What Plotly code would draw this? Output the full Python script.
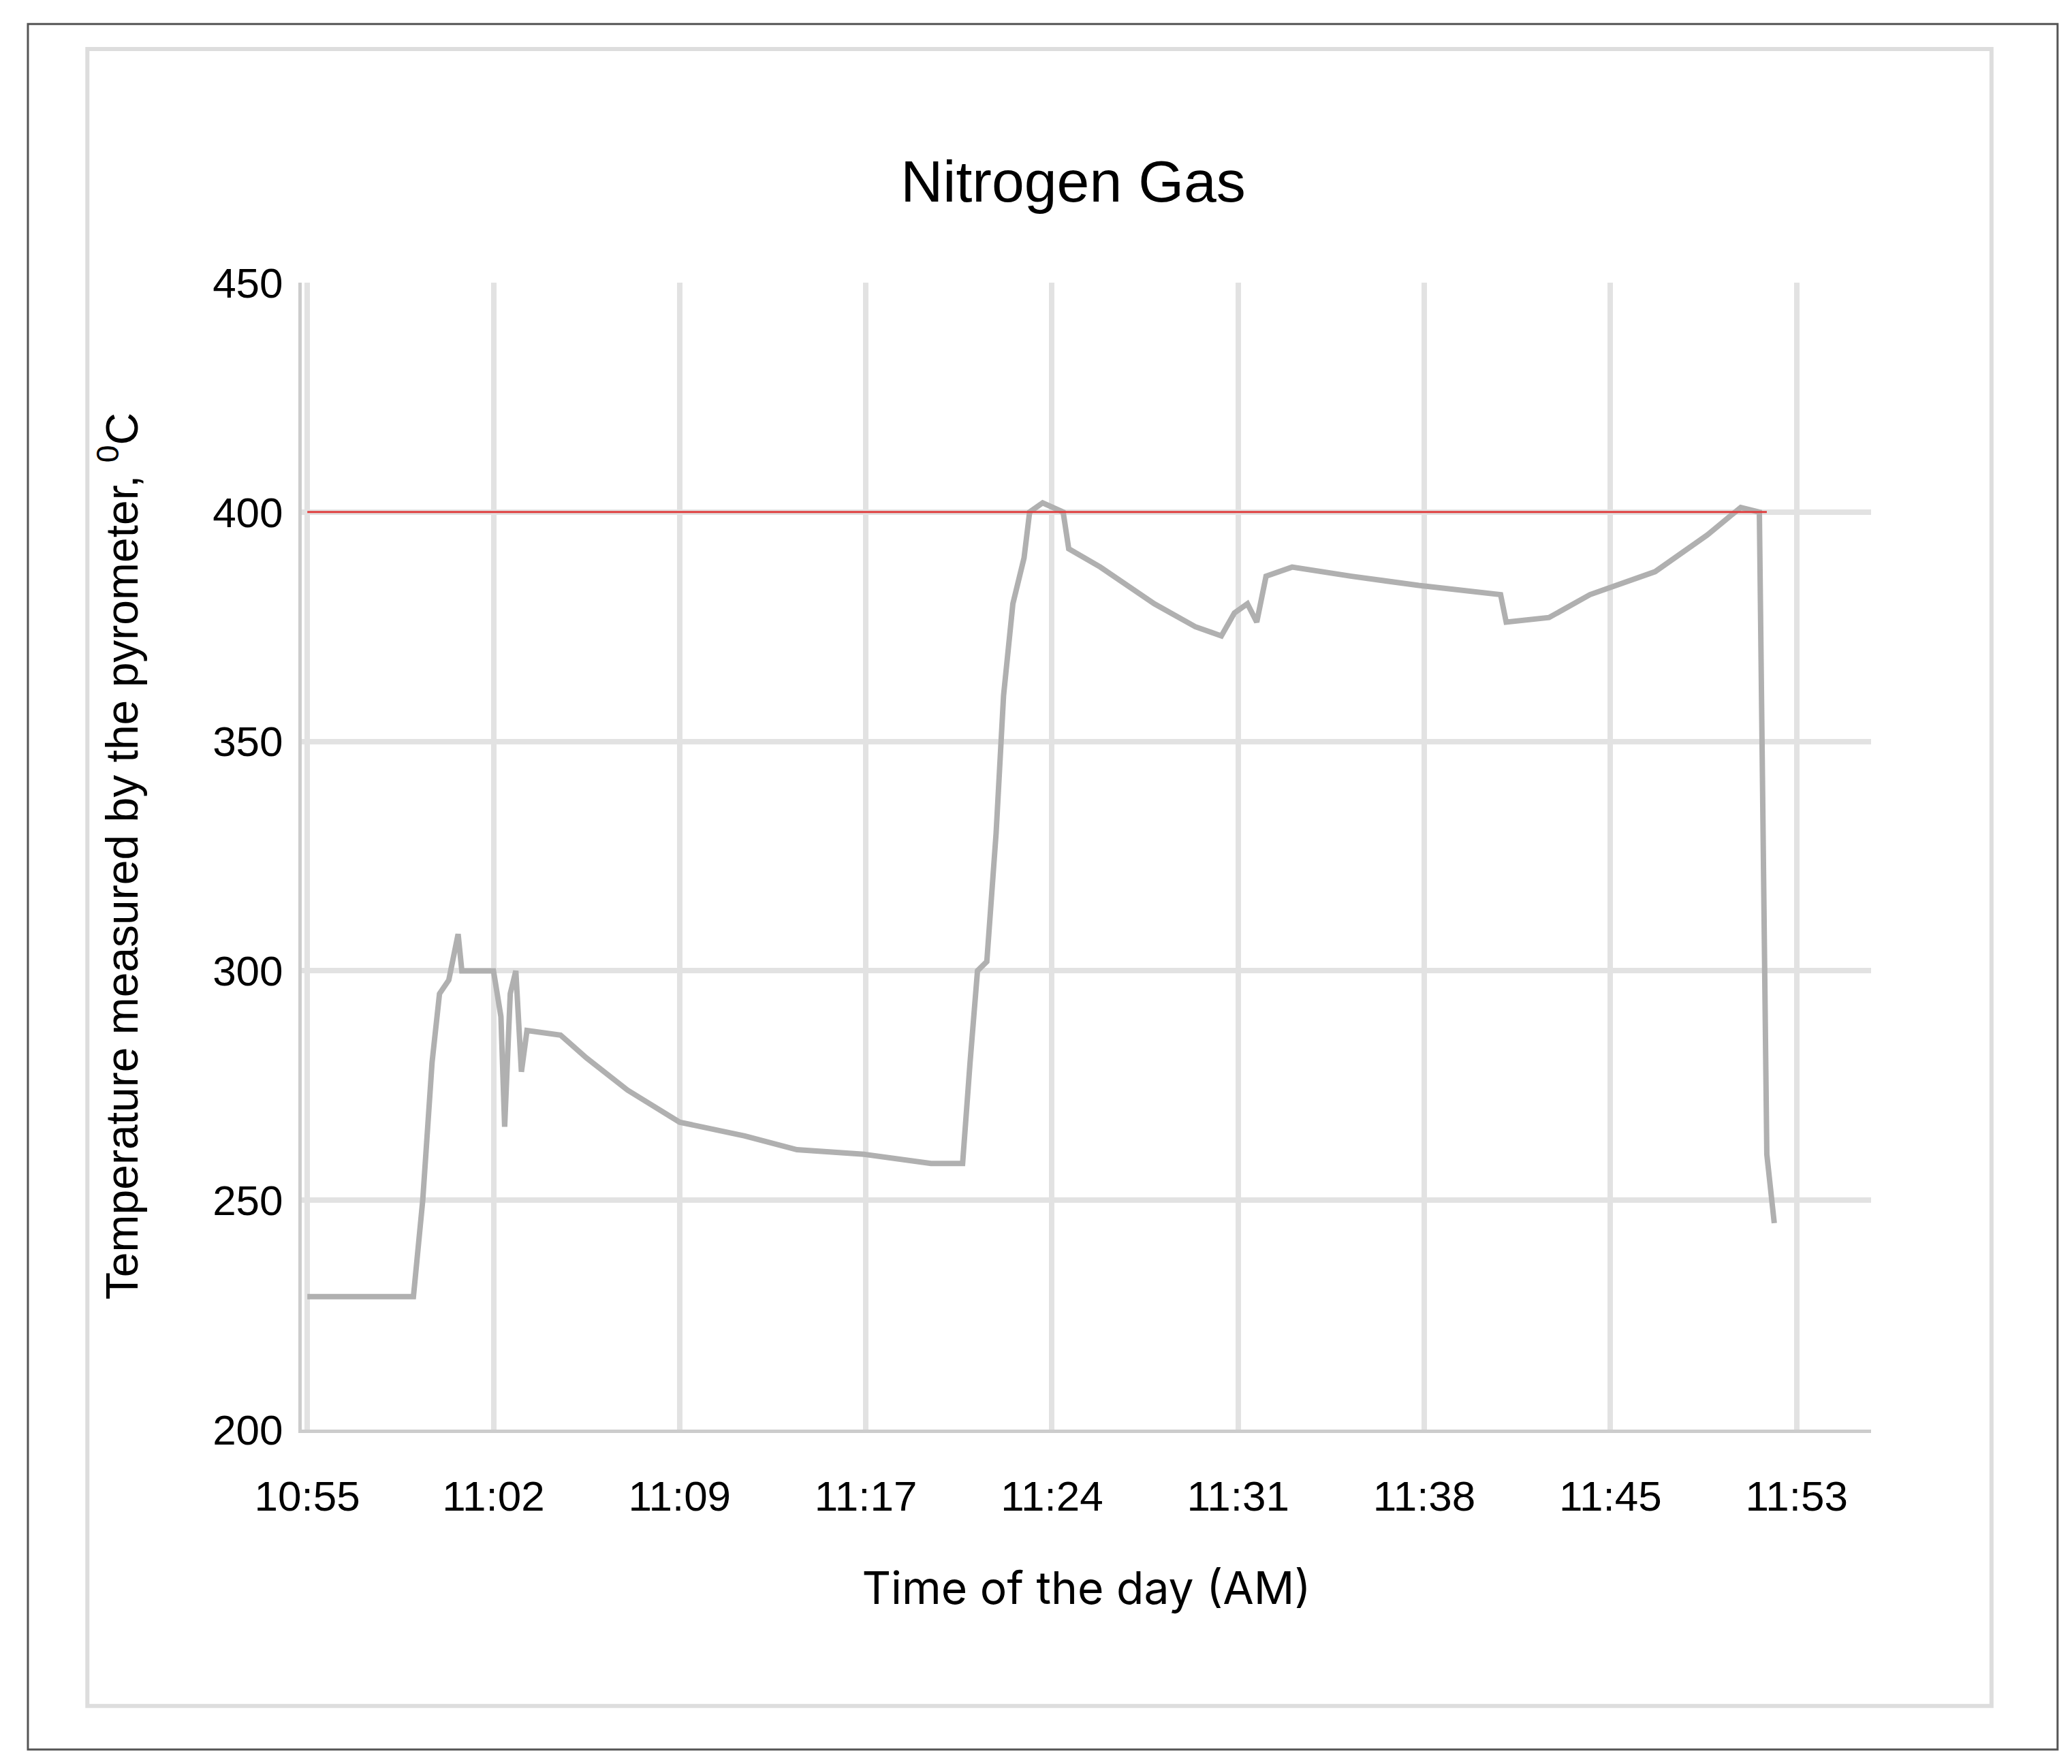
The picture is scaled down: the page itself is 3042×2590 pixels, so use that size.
import plotly.graph_objects as go

tick_labels = ["10:55","11:02","11:09","11:17","11:24","11:31","11:38","11:45","11:53"]
t = [0,0.57,0.62,0.67,0.71,0.76,0.81,0.83,1.0,1.04,1.06,1.09,1.12,1.15,1.18,1.36,1.5,1.72,2.0,2.35,2.63,2.99,3.35,3.52,3.56,3.6,3.65,3.7,3.74,3.79,3.85,3.88,3.95,4.06,4.09,4.26,4.55,4.77,4.91,4.98,5.05,5.1,5.15,5.29,5.61,5.97,6.41,6.44,6.67,6.89,7.24,7.52,7.7,7.8,7.84,7.88]
temp = [229,229,250,280,295,298,308,300,300,290,266,295,300,278,287,286,281,274,267,264,261,260,258,258,280,300,302,330,360,380,390,400,402,400,392,388,380,375,373,378,380,376,386,388,386,384,382,376,377,382,387,395,401,400,260,245]
ref_t = [0, 7.84]
ref_v = [400, 400]

fig = go.Figure()
fig.add_trace(go.Scatter(x=t, y=temp, mode="lines", line=dict(color="#b0b0b0", width=8)))
fig.add_trace(go.Scatter(x=ref_t, y=ref_v, mode="lines", line=dict(color="#e04040", width=3)))

W, H = 3042, 2590
L, R, T, B = 435, 2739, 407, 2091
def px(x): return (x*1.94 - L)/(R-L)
def py(y): return (B - y*1.94)/(B-T)

shapes = [
    dict(type="rect", xref="paper", yref="paper", x0=px(17), x1=px(1553), y0=py(1320), y1=py(14), line=dict(color="#555", width=3)),
    dict(type="rect", xref="paper", yref="paper", x0=px(62), x1=px(1503), y0=py(1287), y1=py(33), line=dict(color="#ddd", width=6)),
]
fig.update_layout(
    width=W, height=H, showlegend=False, plot_bgcolor="white", paper_bgcolor="white",
    margin=dict(l=L, r=W-R, t=T, b=H-B),
    title=dict(text="Nitrogen Gas", x=(808*1.94)/W, xanchor="center", y=1-258/H, yanchor="middle",
               font=dict(family="Liberation Sans", size=86, color="black")),
    font=dict(family="Liberation Sans", color="black"),
    xaxis=dict(range=[-0.03, 8.4], tickvals=list(range(9)), ticktext=tick_labels, showgrid=True,
               gridcolor="#e2e2e2", gridwidth=8, zeroline=False, tickfont=dict(size=62),
               ticklabelstandoff=40,
               title=dict(text="Time of the day (AM)", font=dict(size=66, family="Inter"), standoff=80),
               showline=True, linecolor="#cccccc", linewidth=5),
    yaxis=dict(range=[200, 450], tickvals=[200,250,300,350,400,450], showgrid=True, gridcolor="#e2e2e2",
               gridwidth=8, zeroline=False, tickfont=dict(size=62), ticklabelstandoff=10,
               title=dict(text="Temperature measured by the pyrometer, <sup>0</sup>C", font=dict(size=66), standoff=90),
               showline=True, linecolor="#cccccc", linewidth=5),
    shapes=shapes,
)
fig.write_html("out.html")
